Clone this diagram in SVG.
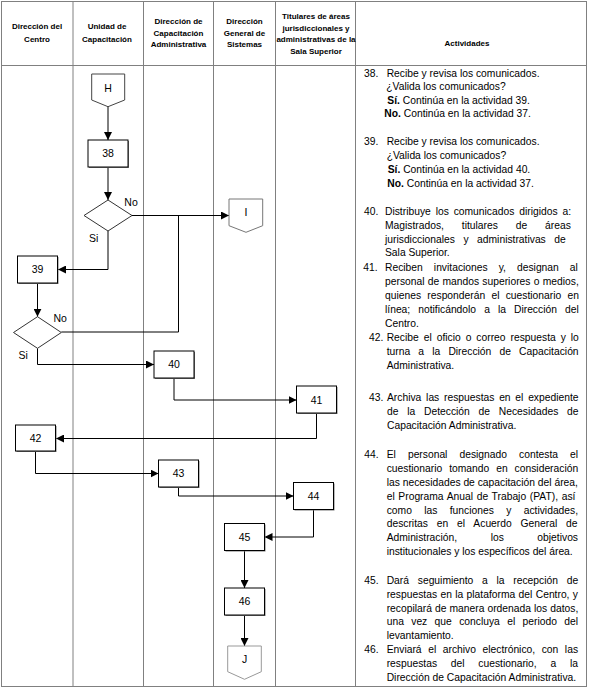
<svg xmlns="http://www.w3.org/2000/svg" width="590" height="690" viewBox="0 0 590 690">
<style>
.grid{stroke:#808080;stroke-width:1;fill:none}
.hd{font-family:"Liberation Sans",Arial,sans-serif;font-size:8px;font-weight:bold;fill:#000;text-anchor:middle}
.tx{font-family:"Liberation Sans",Arial,sans-serif;font-size:10.3px;fill:#000}
.b{font-weight:bold}
.box{fill:#fff;stroke:#000;stroke-width:1}
.shd{fill:#777}
.dia{fill:#fff;stroke:#333;stroke-width:1}
.off{fill:#fff;stroke-width:1}
.lb{font-family:"Liberation Sans",Arial,sans-serif;font-size:10.5px;fill:#000;text-anchor:middle}
.lbl{font-family:"Liberation Sans",Arial,sans-serif;font-size:10.5px;fill:#000}
.cn{fill:none;stroke:#000;stroke-width:1}
</style>
<defs>
<marker id="ah" markerUnits="userSpaceOnUse" markerWidth="8" markerHeight="8" refX="8" refY="4" orient="auto">
<path d="M0,0 L8,4 L0,8 Z" fill="#000"/>
</marker>
</defs>
<rect width="590" height="690" fill="#fff"/>
<g id="table">
<rect class="grid" x="1.5" y="1.5" width="585" height="685"/>
<line class="grid" x1="1.5" y1="65.5" x2="586.5" y2="65.5"/>
<line class="grid" x1="73" y1="1.5" x2="73" y2="686.5"/>
<line class="grid" x1="143.5" y1="1.5" x2="143.5" y2="686.5"/>
<line class="grid" x1="213.5" y1="1.5" x2="213.5" y2="686.5"/>
<line class="grid" x1="275.5" y1="1.5" x2="275.5" y2="686.5"/>
<line class="grid" x1="355.5" y1="1.5" x2="355.5" y2="686.5"/>
</g>
<g id="headers">
<text class="hd" x="37" y="29">Dirección del</text>
<text class="hd" x="37" y="42.3">Centro</text>
<text class="hd" x="107" y="29">Unidad de</text>
<text class="hd" x="107" y="42.3">Capacitación</text>
<text class="hd" x="178.5" y="24">Dirección de</text>
<text class="hd" x="178.5" y="35.7">Capacitación</text>
<text class="hd" x="178.5" y="47.3">Administrativa</text>
<text class="hd" x="244.5" y="24">Dirección</text>
<text class="hd" x="244.5" y="35.7">General de</text>
<text class="hd" x="244.5" y="47.3">Sistemas</text>
<text class="hd" x="316" y="19">Titulares de áreas</text>
<text class="hd" x="316" y="30.5">jurisdiccionales y</text>
<text class="hd" x="316" y="42.2">administrativas de la</text>
<text class="hd" x="316" y="54">Sala Superior</text>
<text class="hd" x="467" y="46.3">Actividades</text>
</g>
<g id="connectors">
<polyline class="cn" points="108,106.7 108,140" marker-end="url(#ah)"/>
<polyline class="cn" points="108,167 108,200" marker-end="url(#ah)"/>
<polyline class="cn" points="132,215.5 229,215.5" marker-end="url(#ah)"/>
<polyline class="cn" points="108,231 108,269.5 58,269.5" marker-end="url(#ah)"/>
<polyline class="cn" points="37.5,283 37.5,316.7" marker-end="url(#ah)"/>
<polyline class="cn" points="61.3,332 178.5,332 178.5,215.5"/>
<polyline class="cn" points="37.5,348.3 37.5,364.5 154,364.5" marker-end="url(#ah)"/>
<polyline class="cn" points="174,378 174,400 296.5,400" marker-end="url(#ah)"/>
<polyline class="cn" points="316.5,413 316.5,438.5 56,438.5" marker-end="url(#ah)"/>
<polyline class="cn" points="35.5,451.5 35.5,473.5 158.5,473.5" marker-end="url(#ah)"/>
<polyline class="cn" points="178.5,487 178.5,496 293.5,496" marker-end="url(#ah)"/>
<polyline class="cn" points="313.5,509.5 313.5,537 264.5,537" marker-end="url(#ah)"/>
<polyline class="cn" points="244.5,550.5 244.5,588" marker-end="url(#ah)"/>
<polyline class="cn" points="244.5,615 244.5,646" marker-end="url(#ah)"/>
</g>
<g id="nH">
<polygon class="off" stroke="#444" points="91.7,74 124.7,74 124.7,100 108,106.7 91.7,100"/>
<text class="lb" x="108" y="91.5">H</text>
</g>
<g id="n38">
<rect class="shd" x="89" y="141" width="40" height="27"/>
<rect class="box" x="88" y="140" width="40" height="27"/>
<text class="lb" x="108" y="157.3">38</text>
</g>
<g id="d1">
<polygon class="dia" points="108,200 132,215.5 108,231 84,215.5"/>
<text class="lbl" x="124.3" y="205.5">No</text>
<text class="lbl" x="89" y="241.5">Si</text>
</g>
<g id="nI">
<polygon class="off" stroke="#777" points="229,199 262.7,199 262.7,225.7 246,232.3 229,225.7"/>
<text class="lb" x="246" y="216">I</text>
</g>
<g id="n39">
<rect class="shd" x="18.5" y="257" width="40" height="27"/>
<rect class="box" x="17.5" y="256" width="40" height="27"/>
<text class="lb" x="37.5" y="273">39</text>
</g>
<g id="d2">
<polygon class="dia" points="37.5,316.7 61.3,332.5 37.5,348.3 13.5,332.5"/>
<text class="lbl" x="53.5" y="321.5">No</text>
<text class="lbl" x="18.5" y="359">Si</text>
</g>
<g id="n40">
<rect class="shd" x="155" y="352" width="40" height="27"/>
<rect class="box" x="154" y="351" width="40" height="27"/>
<text class="lb" x="174" y="368.3">40</text>
</g>
<g id="n41">
<rect class="shd" x="297.5" y="387" width="40" height="27"/>
<rect class="box" x="296.5" y="386" width="40" height="27"/>
<text class="lb" x="316.5" y="404">41</text>
</g>
<g id="n42">
<rect class="shd" x="16.5" y="426" width="40" height="26"/>
<rect class="box" x="15.5" y="425" width="40" height="26"/>
<text class="lb" x="35.5" y="442">42</text>
</g>
<g id="n43">
<rect class="shd" x="159.5" y="461" width="40" height="27"/>
<rect class="box" x="158.5" y="460" width="40" height="27"/>
<text class="lb" x="178.5" y="477.3">43</text>
</g>
<g id="n44">
<rect class="shd" x="294.5" y="483.5" width="40" height="27"/>
<rect class="box" x="293.5" y="482.5" width="40" height="27"/>
<text class="lb" x="313.5" y="500">44</text>
</g>
<g id="n45">
<rect class="shd" x="225.5" y="524.5" width="40" height="27"/>
<rect class="box" x="224.5" y="523.5" width="40" height="27"/>
<text class="lb" x="244.5" y="541">45</text>
</g>
<g id="n46">
<rect class="shd" x="225.5" y="589" width="40" height="27"/>
<rect class="box" x="224.5" y="588" width="40" height="27"/>
<text class="lb" x="244.5" y="605">46</text>
</g>
<g id="nJ">
<polygon class="off" stroke="#999" points="227.7,646 261.3,646 261.3,671.7 244.5,679.3 227.7,671.7"/>
<text class="lb" x="244.5" y="663">J</text>
</g>
<g id="activities">
<text class="tx" x="364" y="77">38.</text>
<text class="tx" x="386.7" y="77">Recibe y revisa los comunicados.</text>
<text class="tx" x="386.3" y="90.4">¿Valida los comunicados?</text>
<text class="tx" x="387.3" y="103.8"><tspan class="b">Sí.</tspan> Continúa en la actividad 39.</text>
<text class="tx" x="384.3" y="117.2"><tspan class="b">No.</tspan> Continúa en la actividad 37.</text>

<text class="tx" x="364" y="144.7">39.</text>
<text class="tx" x="386.7" y="144.7">Recibe y revisa los comunicados.</text>
<text class="tx" x="386.7" y="158.7">¿Valida los comunicados?</text>
<text class="tx" x="387.7" y="172.7"><tspan class="b">Sí.</tspan> Continúa en la actividad 40.</text>
<text class="tx" x="387.3" y="186.7"><tspan class="b">No.</tspan> Continúa en la actividad 37.</text>

<text class="tx" x="364" y="214.7">40.</text>
<text class="tx" x="385" y="214.7" word-spacing="2">Distribuye los comunicados dirigidos a:</text>
<text class="tx" x="385" y="228.6" word-spacing="15">Magistrados, titulares de áreas</text>
<text class="tx" x="385" y="242.5" word-spacing="5.7">jurisdiccionales y administrativas de</text>
<text class="tx" x="385" y="256.4">Sala Superior.</text>

<text class="tx" x="363.3" y="271">41.</text>
<text class="tx" x="385" y="271" word-spacing="8.2">Reciben invitaciones y, designan al</text>
<text class="tx" x="385" y="284.9" word-spacing="0.4">personal de mandos superiores o medios,</text>
<text class="tx" x="385" y="298.8" word-spacing="3.4">quienes responderán el cuestionario en</text>
<text class="tx" x="385" y="312.7" word-spacing="5.2">línea; notificándolo a la Dirección del</text>
<text class="tx" x="385" y="326.6">Centro.</text>

<text class="tx" x="369" y="341.4">42.</text>
<text class="tx" x="386.7" y="341.4" word-spacing="2.1">Recibe el oficio o correo respuesta y lo</text>
<text class="tx" x="386.7" y="355.2" word-spacing="5.3">turna a la Dirección de Capacitación</text>
<text class="tx" x="386.7" y="369">Administrativa.</text>

<text class="tx" x="369" y="401.2">43.</text>
<text class="tx" x="387" y="401.2" word-spacing="1.9">Archiva las respuestas en el expediente</text>
<text class="tx" x="387" y="415.1" word-spacing="5.9">de la Detección de Necesidades de</text>
<text class="tx" x="387" y="429">Capacitación Administrativa.</text>

<text class="tx" x="364.3" y="457.7">44.</text>
<text class="tx" x="386.7" y="457.7" word-spacing="9.2">El personal designado contesta el</text>
<text class="tx" x="386.7" y="471.6" word-spacing="4.1">cuestionario tomando en consideración</text>
<text class="tx" x="386.7" y="485.6">las necesidades de capacitación del área,</text>
<text class="tx" x="386.7" y="499.5" word-spacing="0.8">el Programa Anual de Trabajo (PAT), así</text>
<text class="tx" x="386.7" y="513.5" word-spacing="9.5">como las funciones y actividades,</text>
<text class="tx" x="386.7" y="527.4" word-spacing="6">descritas en el Acuerdo General de</text>
<text class="tx" x="386.7" y="541.4" word-spacing="30.7">Administración, los objetivos</text>
<text class="tx" x="386.7" y="555.3">institucionales y los específicos del área.</text>

<text class="tx" x="364.3" y="583.7">45.</text>
<text class="tx" x="386.7" y="583.7" word-spacing="5.9">Dará seguimiento a la recepción de</text>
<text class="tx" x="386.7" y="597.6" word-spacing="0.5">respuestas en la plataforma del Centro, y</text>
<text class="tx" x="386.7" y="611.5" word-spacing="0.2">recopilará de manera ordenada los datos,</text>
<text class="tx" x="386.7" y="625.4" word-spacing="4.5">una vez que concluya el periodo del</text>
<text class="tx" x="386.7" y="639.3">levantamiento.</text>

<text class="tx" x="364.3" y="653">46.</text>
<text class="tx" x="386.7" y="653" word-spacing="3.7">Enviará el archivo electrónico, con las</text>
<text class="tx" x="386.7" y="666.9" word-spacing="10.9">respuestas del cuestionario, a la</text>
<text class="tx" x="386.7" y="680.6">Dirección de Capacitación Administrativa.</text>
</g>
</svg>
